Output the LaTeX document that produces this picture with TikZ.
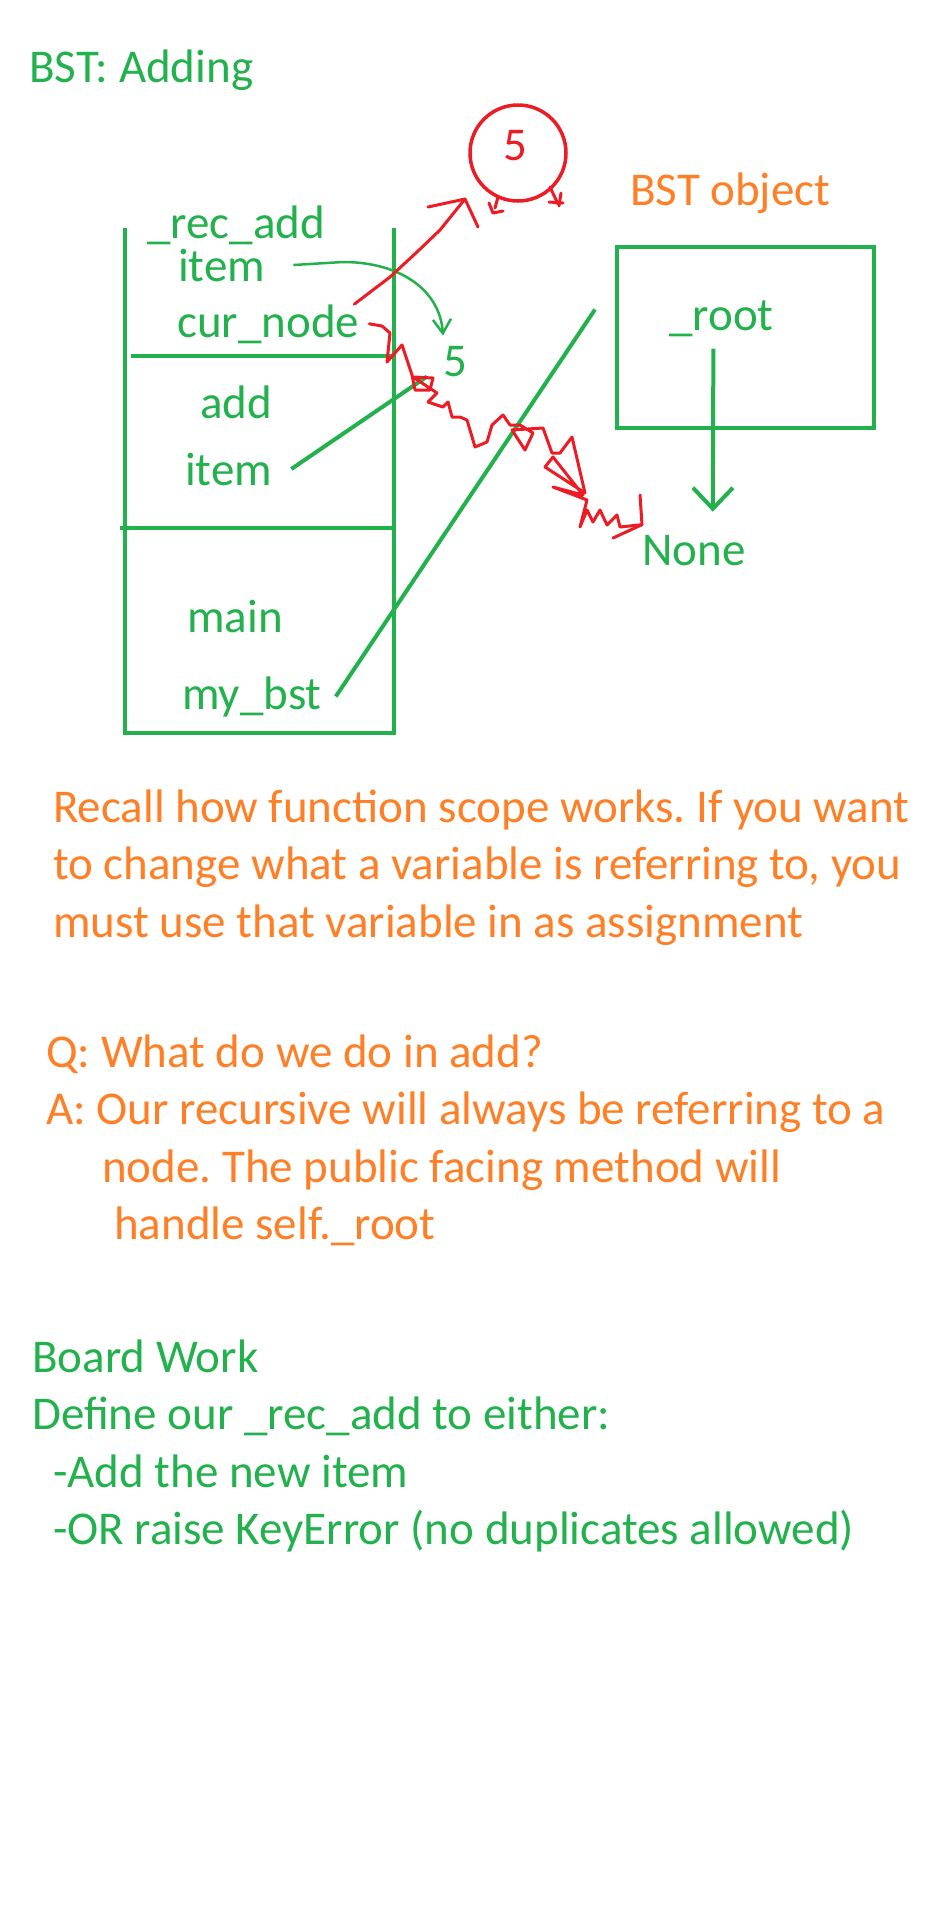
\documentclass[tikz,border=0pt]{standalone}
\usepackage{fontspec}
\setmainfont{Carlito}
\usetikzlibrary{arrows.meta}
\definecolor{paintgreen}{HTML}{22B14C}
\definecolor{paintorange}{HTML}{FF7F27}
\definecolor{paintred}{HTML}{ED1C24}
\frenchspacing
\begin{document}
\begin{tikzpicture}[x=1pt,y=-1pt,
  every node/.style={inner sep=0pt,font=\fontsize{47}{57.5}\selectfont},
  txt/.style={anchor=base west,text=paintgreen},
  note/.style={anchor=base west,text=paintorange},
  pen/.style={draw=paintgreen,line width=4pt},
  scrawl/.style={draw=paintred,line width=3pt,line cap=round,line join=round}]
\useasboundingbox (0,0) rectangle (928,1920);

\node (title) [txt] at (29,82) {BST: Adding};

% call stack
\draw [pen] (125,228) -- (125,733) -- (394,733) -- (394,228);
\draw [pen] (131,356) -- (394,356);
\draw [pen] (120,528) -- (393,528);
\node (recadd) [txt] at (147,238) {\_rec\_add};
\node (itema) [txt] at (178,281) {item};
\node (curnode) [txt] at (177,337) {cur\_node};
\node (add) [txt] at (200,418) {add};
\node (itemb) [txt] at (185,485) {item};
\node (main) [txt] at (187,632) {main};
\node (mybst) [txt] at (182,709) {my\_bst};
\node (fivea) [txt] at (443,376) {5};

% the object
\node (bstobj) [note] at (630,205) {BST object};
\node (bstbox) [pen,minimum width=257pt,minimum height=181pt] at (745.5,337.5) {};
\node (root) [txt] at (669,330) {\_root};
\node (none) [txt] at (642,565) {None};

\draw [paintgreen,line width=2.5pt,-{Straight Barb[length=14pt,width=18pt]}]
  ([xshift=28pt]itema.east) -- (343,262) .. controls (400,262) and (440,290) .. ([yshift=10pt]fivea.north west);
\draw [pen] ([xshift=19pt]itemb.east) -- ([xshift=-16pt]fivea.south west);
\draw [pen] ([xshift=14pt]mybst.east) -- ([shift={(-20,-28)}]bstbox.west);
\draw [pen,-{Straight Barb[length=21pt,width=40pt]}]
  ([shift={(-8,12)}]root.south) -- ([shift={(19,-23)}]none.north);

% new node 5
\node (val) [circle,draw=paintred,line width=3.5pt,minimum size=96pt] at (518,153) {};
\node (valnum) [text=paintred] at (515,146) {5};
\coordinate (tipval) at (465,199);
\draw [scrawl] ([xshift=-5pt]curnode.north east) -- (390,277) -- (417,252) -- (440,230) -- (tipval);
\draw [scrawl] (428,207) -- (tipval) -- (478,227);
\draw [scrawl] (498,197) -- (495,208);
\draw [scrawl] (489,203) -- (493,213) -- (503,211);
\draw [scrawl] (550,187) -- (558,204);
\draw [scrawl] (549,202) -- (563,203);
\draw [scrawl] (561,193) -- (559,206);

% cur_node scribbled down to None
\coordinate (tipnone) at ([yshift=10pt]none.north west);
\draw [scrawl] ([xshift=10pt]curnode.east) -- (382,326) -- (390,333) -- (387,362) -- (402,345)
  -- (412,375) -- (415,390) -- (430,390) -- (433,378) -- (413,377) -- (437,393) -- (428,402)
  -- (443,407) -- (448,402) -- (452,417) -- (460,417) -- (467,420) -- (475,447) -- (487,442)
  -- (492,425) -- (503,415) -- (510,425) -- (520,425) -- (533,433) -- (525,450) -- (512,430)
  -- (543,428) -- (552,453) -- (560,453) -- (572,437) -- (585,493) -- (545,467) -- (553,457)
  -- (583,495) -- (553,487) -- (587,500) -- (580,527) -- (587,510) -- (593,522) -- (600,510)
  -- (607,525) -- (617,515) -- (620,527) -- (tipnone);
\draw [scrawl] (640,495) -- (tipnone) -- (613,538);

% notes
\node (recall) [note] at (53,822) {\begin{tabular}[t]{@{}l@{}}
Recall how function scope works. If you want\\
to change what a variable is referring to, you\\
must use that variable in as assignment
\end{tabular}};
\node (qa) [note] at (46,1067) {\begin{tabular}[t]{@{}l@{}}
Q: What do we do in add?\\
A: Our recursive will always be referring to a\\
\hspace*{56pt}node. The public facing method will\\
\hspace*{68pt}handle self.\_root
\end{tabular}};
\node (board) [txt] at (32,1372) {\begin{tabular}[t]{@{}l@{}}
Board Work\\
Define our \_rec\_add to either:\\
\hspace*{21pt}-Add the new item\\
\hspace*{21pt}-OR raise KeyError (no duplicates allowed)
\end{tabular}};
\end{tikzpicture}
\end{document}
